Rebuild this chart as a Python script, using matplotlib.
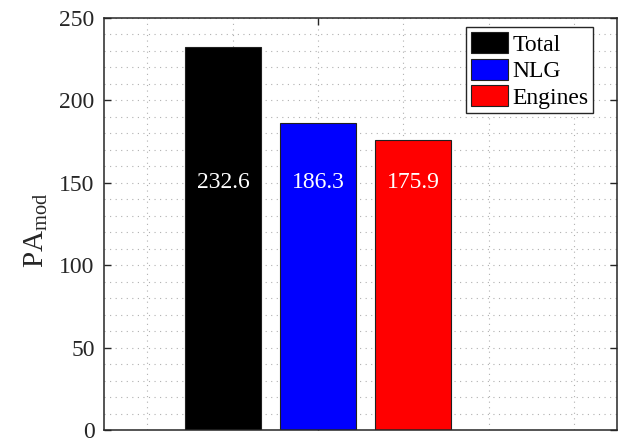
import numpy as np
import matplotlib.pyplot as plt
from matplotlib.ticker import MultipleLocator

categories = ['Total', 'NLG', 'Engines']
values = [232.6, 186.3, 175.9]
colors = ['#000000', '#0000ff', '#ff0000']

plt.rcParams['font.family'] = 'Liberation Serif'
plt.rcParams['mathtext.fontset'] = 'custom'
plt.rcParams['mathtext.rm'] = 'Liberation Serif'
plt.rcParams['mathtext.it'] = 'Liberation Serif:italic'

fs = 17
spine_col = '#262626'

fig = plt.figure(figsize=(6.2, 4.45), dpi=100)
ax = fig.add_axes([0.1685, 0.0337, 0.8265, 0.926])

# grouped bars around x = 1 (MATLAB style grouping)
n = len(values)
group_w = min(0.8, n / (n + 1.5))
step = group_w / n
xs = 1 + (np.arange(n) - (n - 1) / 2) * step
bw = 0.8 * step

for x, v, c, lab in zip(xs, values, colors, categories):
    ax.bar(x, v, width=bw, color=c, edgecolor='#202020', linewidth=0.8, label=lab, zorder=2)
    ax.text(x, 150, f'{v:.1f}', color='white', ha='center', va='center', fontsize=fs, zorder=3)

ax.set_xlim(0.5, 1.7)
ax.set_ylim(0, 250)
ax.set_xticks([1])
ax.set_xticklabels([''])
ax.xaxis.set_minor_locator(MultipleLocator(0.2))
ax.yaxis.set_major_locator(MultipleLocator(50))
ax.yaxis.set_minor_locator(MultipleLocator(10))

ax.set_axisbelow(True)
ax.grid(which='both', linestyle=(0, (1, 4)), color='#b0b0b0', linewidth=0.8, zorder=0)

ax.tick_params(which='major', direction='in', length=5, width=1.0, color=spine_col,
               top=True, right=True, labelsize=fs, labelcolor=spine_col, pad=7)
ax.tick_params(which='minor', length=0, top=True, right=True)
for s in ax.spines.values():
    s.set_color(spine_col)
    s.set_linewidth(1.1)
    s.set_zorder(4)

ax.set_ylabel(r'PA$_{\rm mod}$', fontsize=21, color=spine_col)
ax.yaxis.set_label_coords(-0.106, 0.485)

leg = ax.legend(loc='upper right', bbox_to_anchor=(0.954, 0.977), fontsize=fs,
                frameon=True, fancybox=False, edgecolor=spine_col, framealpha=1,
                handlelength=1.55, handleheight=1.0, handletextpad=0.2,
                borderpad=0.2, labelspacing=0.12, borderaxespad=0)
leg.get_frame().set_linewidth(1.0)

fig.savefig('out.png', dpi=100)
